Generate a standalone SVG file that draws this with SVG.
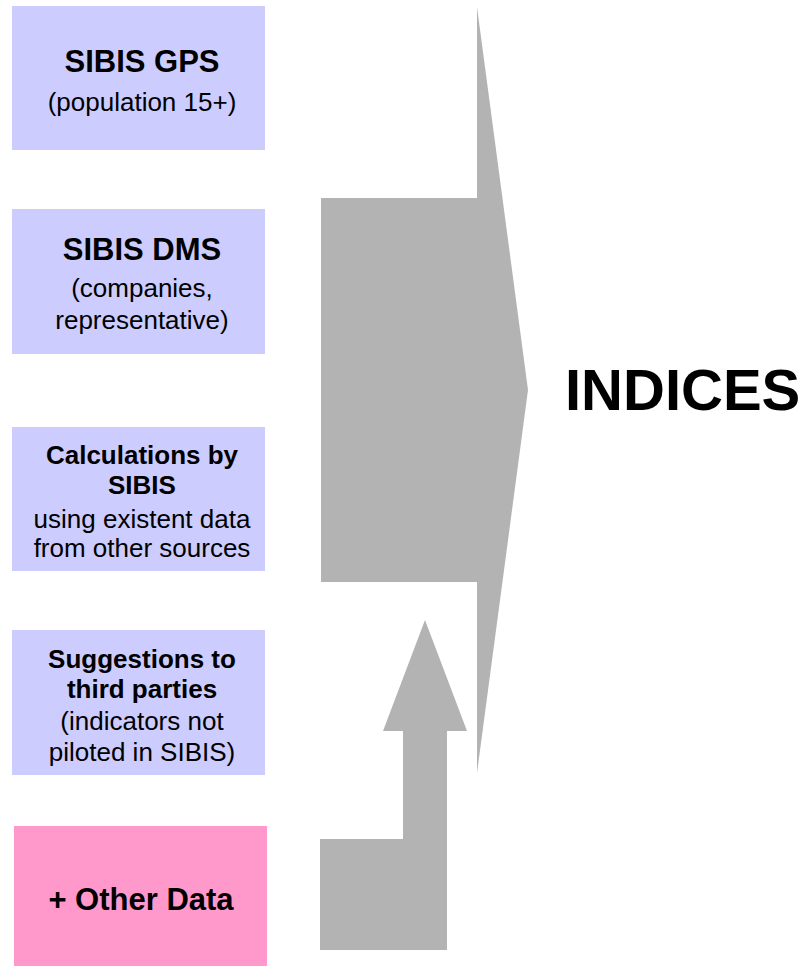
<svg xmlns="http://www.w3.org/2000/svg" width="807" height="966" viewBox="0 0 807 966">
<style>
.box{fill:#CCCCFF}
.pink{fill:#FF99CC}
.arr{fill:#B3B3B3}
text{font-family:"Liberation Sans",Arial,sans-serif;fill:#000;text-anchor:middle}
.t{font-size:31px;font-weight:bold}
.b{font-size:26px;font-weight:bold}
.r{font-size:26px}
.big{font-size:58px;font-weight:bold;text-anchor:start}
</style>
<rect width="807" height="966" fill="#fff"/>
<g id="connectors">
<polygon class="arr" points="321,198 477,198 477,7 528,390 477,773 477,582 321,582"/>
<polygon class="arr" points="425,620 467,731 447,731 447,950 320,950 320,839 403,839 403,731 383,731"/>
</g>
<g id="gps">
<rect class="box" x="12" y="6" width="253" height="144"/>
<text class="t" x="142" y="72">SIBIS GPS</text>
<text class="r" x="142" y="111">(population 15+)</text>
</g>
<g id="dms">
<rect class="box" x="12" y="209" width="253" height="145"/>
<text class="t" x="142" y="260">SIBIS DMS</text>
<text class="r" x="142" y="297">(companies,</text>
<text class="r" x="142" y="329">representative)</text>
</g>
<g id="calc">
<rect class="box" x="12" y="427" width="253" height="144"/>
<text class="b" x="142" y="464">Calculations by</text>
<text class="b" x="142" y="494">SIBIS</text>
<text class="r" x="142" y="528">using existent data</text>
<text class="r" x="142" y="557">from other sources</text>
</g>
<g id="sugg">
<rect class="box" x="12" y="630" width="253" height="145"/>
<text class="b" x="142" y="668">Suggestions to</text>
<text class="b" x="142" y="698">third parties</text>
<text class="r" x="142" y="730">(indicators not</text>
<text class="r" x="142" y="761">piloted in SIBIS)</text>
</g>
<g id="other">
<rect class="pink" x="14" y="826" width="253" height="140"/>
<text class="t" x="141" y="910">+ Other Data</text>
</g>
<g id="indices">
<text class="big" x="565" y="410">INDICES</text>
</g>
</svg>
